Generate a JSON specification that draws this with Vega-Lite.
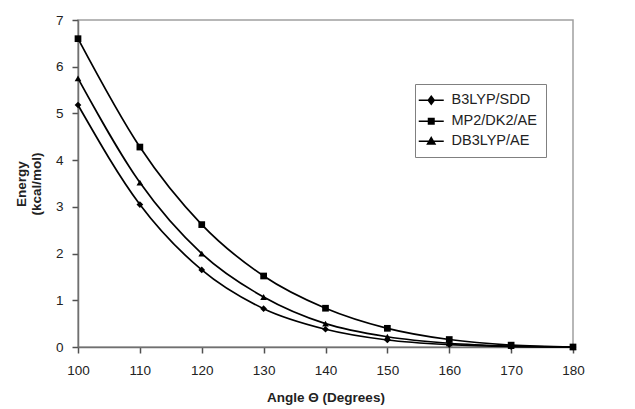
{
  "$schema": "https://vega.github.io/schema/vega-lite/v6.json",
  "width": 495,
  "height": 327,
  "autosize": "none",
  "padding": {"left": 78, "top": 20, "right": 62, "bottom": 62},
  "background": "white",
  "config": {
    "font": "Liberation Sans",
    "view": {"stroke": "#a0a0a0", "strokeWidth": 1.5},
    "axis": {
      "grid": false,
      "labelFlush": false,
      "domainColor": "#707070",
      "domainWidth": 1.5,
      "labelFont": "Liberation Sans",
      "labelFontSize": 13.5,
      "labelColor": "#222",
      "titleFont": "Liberation Sans",
      "titleFontSize": 13.5,
      "titleFontWeight": "bold",
      "titleColor": "#222"
    }
  },
  "data": {
    "values": [
      {"angle": 100, "energy": 5.18, "series": "B3LYP/SDD"},
      {"angle": 110, "energy": 3.05, "series": "B3LYP/SDD"},
      {"angle": 120, "energy": 1.65, "series": "B3LYP/SDD"},
      {"angle": 130, "energy": 0.82, "series": "B3LYP/SDD"},
      {"angle": 140, "energy": 0.38, "series": "B3LYP/SDD"},
      {"angle": 150, "energy": 0.15, "series": "B3LYP/SDD"},
      {"angle": 160, "energy": 0.05, "series": "B3LYP/SDD"},
      {"angle": 170, "energy": 0.01, "series": "B3LYP/SDD"},
      {"angle": 180, "energy": 0.0, "series": "B3LYP/SDD"},
      {"angle": 100, "energy": 6.6, "series": "MP2/DK2/AE"},
      {"angle": 110, "energy": 4.28, "series": "MP2/DK2/AE"},
      {"angle": 120, "energy": 2.62, "series": "MP2/DK2/AE"},
      {"angle": 130, "energy": 1.52, "series": "MP2/DK2/AE"},
      {"angle": 140, "energy": 0.83, "series": "MP2/DK2/AE"},
      {"angle": 150, "energy": 0.4, "series": "MP2/DK2/AE"},
      {"angle": 160, "energy": 0.16, "series": "MP2/DK2/AE"},
      {"angle": 170, "energy": 0.04, "series": "MP2/DK2/AE"},
      {"angle": 180, "energy": 0.0, "series": "MP2/DK2/AE"},
      {"angle": 100, "energy": 5.75, "series": "DB3LYP/AE"},
      {"angle": 110, "energy": 3.52, "series": "DB3LYP/AE"},
      {"angle": 120, "energy": 2.0, "series": "DB3LYP/AE"},
      {"angle": 130, "energy": 1.07, "series": "DB3LYP/AE"},
      {"angle": 140, "energy": 0.5, "series": "DB3LYP/AE"},
      {"angle": 150, "energy": 0.22, "series": "DB3LYP/AE"},
      {"angle": 160, "energy": 0.08, "series": "DB3LYP/AE"},
      {"angle": 170, "energy": 0.02, "series": "DB3LYP/AE"},
      {"angle": 180, "energy": 0.0, "series": "DB3LYP/AE"}
    ]
  },
  "encoding": {
    "x": {
      "field": "angle", "type": "quantitative",
      "scale": {"domain": [100, 180], "nice": false, "zero": false},
      "axis": {"values": [100, 110, 120, 130, 140, 150, 160, 170, 180], "title": "Angle Θ (Degrees)", "labelPadding": 10, "titlePadding": 14, "ticks": true, "tickSize": 6, "tickColor": "#505050", "tickWidth": 1.5}
    },
    "y": {
      "field": "energy", "type": "quantitative",
      "scale": {"domain": [0, 7], "nice": false},
      "axis": {"values": [0, 1, 2, 3, 4, 5, 6, 7], "title": ["Energy", "(kcal/mol)"], "titleLineHeight": 15, "labelPadding": 9, "titlePadding": 12, "titleAngle": 270, "ticks": true, "tickSize": 6, "tickColor": "#505050", "tickWidth": 1.5}
    }
  },
  "layer": [
    {
      "mark": {"type": "line", "interpolate": "monotone", "color": "black", "strokeWidth": 1.7},
      "encoding": {"detail": {"field": "series"}}
    },
    {
      "mark": {"type": "point", "filled": true, "color": "black", "opacity": 1, "size": 45},
      "encoding": {
        "shape": {
          "field": "series", "type": "nominal",
          "scale": {"domain": ["B3LYP/SDD", "MP2/DK2/AE", "DB3LYP/AE"], "range": ["diamond", "square", "triangle-up"]},
          "legend": null
        }
      }
    },
    {
      "mark": {"type": "point", "filled": false, "color": "black", "opacity": 0, "size": 100, "strokeWidth": 1.5},
      "encoding": {
        "shape": {
          "field": "series", "type": "nominal",
          "scale": {"domain": ["B3LYP/SDD", "MP2/DK2/AE", "DB3LYP/AE"], "range": [
            "M-2.5,0L2.5,0M0,-0.8L0.6,0L0,0.8L-0.6,0ZM0,-0.4L0.3,0L0,0.4L-0.3,0ZM0,-0.8L0,0.8",
            "M-2.5,0L2.5,0M-0.55,-0.55L0.55,-0.55L0.55,0.55L-0.55,0.55ZM-0.25,-0.25L0.25,-0.25L0.25,0.25L-0.25,0.25ZM0,-0.55L0,0.55",
            "M-2.5,0L2.5,0M0,-0.75L0.75,0.55L-0.75,0.55ZM0,-0.25L0.35,0.3L-0.35,0.3ZM0,-0.75L0,0.55"
          ]},
          "legend": {
            "title": null,
            "orient": "none",
            "legendX": 337,
            "legendY": 64,
            "padding": 9,
            "strokeColor": "#808080",
            "fillColor": "white",
            "symbolOpacity": 1,
            "symbolSize": 100,
            "symbolStrokeColor": "black",
            "symbolStrokeWidth": 1.5,
            "labelFont": "Liberation Sans",
            "labelFontSize": 14.5,
            "labelColor": "#222",
            "labelOffset": 13,
            "rowPadding": 5
          }
        }
      }
    }
  ],
  "resolve": {"scale": {"shape": "independent"}}
}
